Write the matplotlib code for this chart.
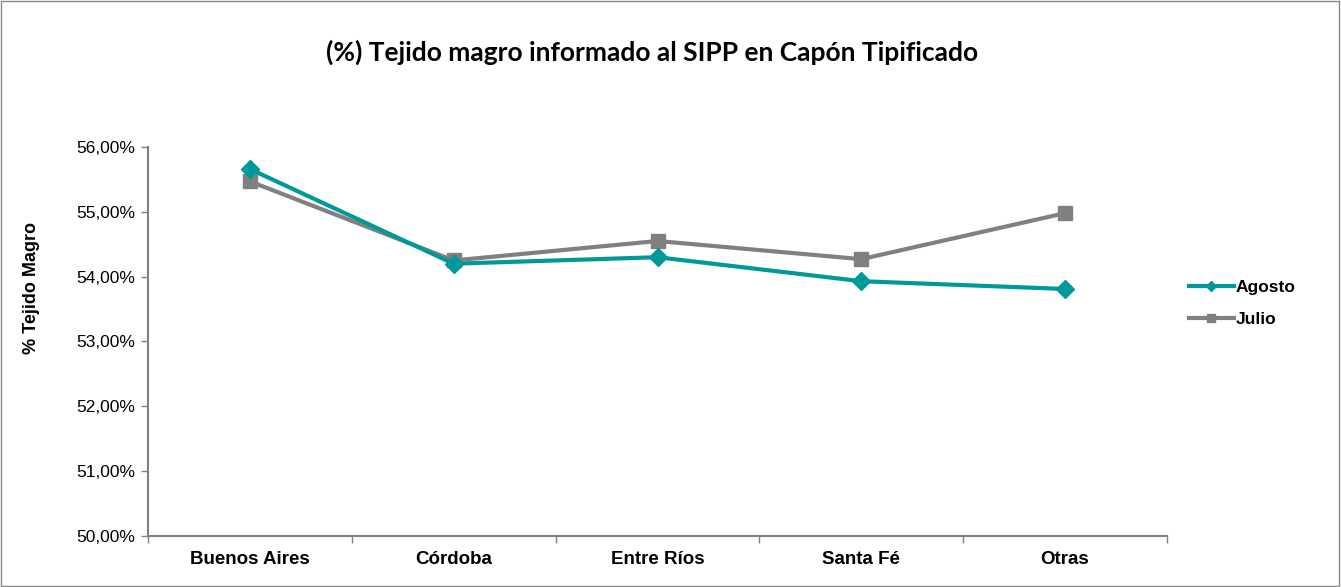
import matplotlib
matplotlib.use("Agg")
import matplotlib.pyplot as plt
from matplotlib.ticker import FuncFormatter, FixedLocator
from matplotlib.patches import Rectangle

categories = ["Buenos Aires", "Córdoba", "Entre Ríos", "Santa Fé", "Otras"]
agosto = [55.66, 54.20, 54.30, 53.93, 53.81]
julio = [55.47, 54.25, 54.55, 54.27, 54.98]
y_ticks = [50, 51, 52, 53, 54, 55, 56]

TEAL = "#009999"
GRAY = "#808080"

plt.rcParams['font.family'] = ['Liberation Sans', 'DejaVu Sans']

fig = plt.figure(figsize=(13.41, 5.87), dpi=100)
ax = fig.add_axes([148/1341, 1-536/587, (1167-148)/1341, (536-147)/587])

x = list(range(len(categories)))
ax.plot(x, agosto, color=TEAL, lw=3, marker="D", ms=9, label="Agosto", zorder=3)
ax.plot(x, julio, color=GRAY, lw=3, marker="s", ms=10, label="Julio", zorder=2)

ax.set_xlim(-0.5, len(categories) - 0.5)
ax.set_ylim(50, 56)
ax.set_yticks(y_ticks)
ax.yaxis.set_major_formatter(FuncFormatter(lambda v, p: f"{v:.2f}".replace(".", ",") + "%"))
ax.set_xticks(x)
ax.set_xticklabels(categories, fontsize=13.5, fontweight="bold")
ax.xaxis.set_minor_locator(FixedLocator([i - 0.5 for i in range(len(categories) + 1)]))
ax.tick_params(axis="x", which="major", length=0, pad=11)
ax.tick_params(axis="x", which="minor", length=5, color=GRAY, width=1)
ax.tick_params(axis="y", length=5, color=GRAY, width=1, labelsize=12.5, pad=4)

for s in ["top", "right"]:
    ax.spines[s].set_visible(False)
for s in ["left", "bottom"]:
    ax.spines[s].set_color(GRAY)
    ax.spines[s].set_linewidth(1.5)

ax.set_ylabel("% Tejido Magro", fontsize=13, fontweight="bold")
ax.yaxis.set_label_coords(-0.106, 0.6375)

fig.text(652/1341, 1-52/587, "(%) Tejido magro informado al SIPP en Capón Tipificado",
         ha="center", va="center", fontsize=19, fontweight="bold", family=["Lato", "DejaVu Sans"])

leg = ax.legend(loc="center left", bbox_to_anchor=(1.006, 0.598), frameon=False,
                prop={"weight": "bold", "size": 12.5}, markerscale=0.55,
                handlelength=2.6, handletextpad=0.1, labelspacing=0.95)

fig.patches.append(Rectangle((0.0005, 0.001), 0.998, 0.997, transform=fig.transFigure,
                             fill=False, edgecolor="#888888", lw=1))

fig.savefig("out.png", dpi=100)
